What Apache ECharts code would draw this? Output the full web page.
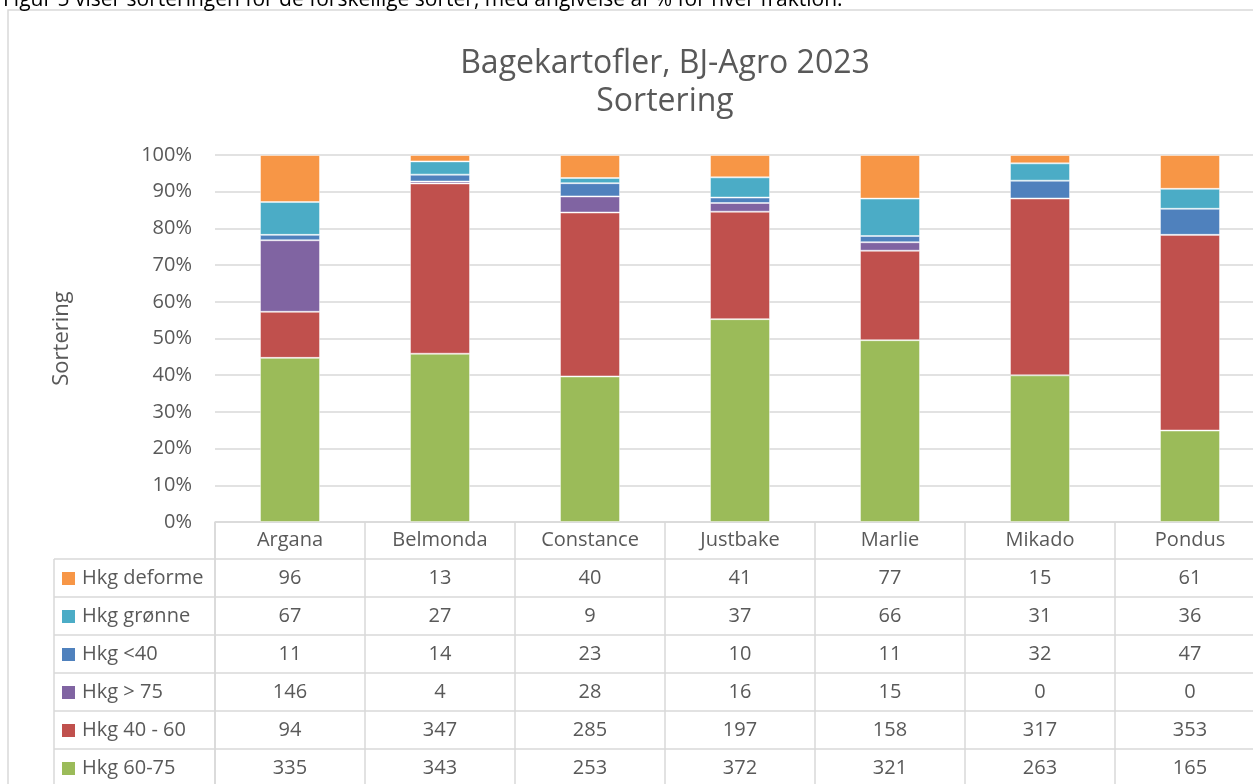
<!DOCTYPE html>
<html>
<head>
<meta charset="utf-8">
<title>Bagekartofler, BJ-Agro 2023</title>
<script src="https://cdn.jsdelivr.net/npm/echarts@6/dist/echarts.min.js"></script>
<style>
    html, body { margin: 0; padding: 0; background: #fff; }
    #main { width: 1253px; height: 784px; }
</style>
</head>
<body>
<div id="main"></div>
<script>
    // sorter (kategorier)
    const sorter = ['Argana', 'Belmonda', 'Constance', 'Justbake', 'Marlie', 'Mikado', 'Pondus'];
    // hkg pr. fraktion
    const hkgDeforme = [96, 13, 40, 41, 77, 15, 61];
    const hkgGronne = [67, 27, 9, 37, 66, 31, 36];
    const hkgUnder40 = [11, 14, 23, 10, 11, 32, 47];
    const hkgOver75 = [146, 4, 28, 16, 15, 0, 0];
    const hkg40til60 = [94, 347, 285, 197, 158, 317, 353];
    const hkg60til75 = [335, 343, 253, 372, 321, 263, 165];
    const yTicks = [0, 10, 20, 30, 40, 50, 60, 70, 80, 90, 100];

    // tabellens rækkefølge (top -> bund)
    const rows = [
        { name: 'Hkg deforme', data: hkgDeforme, color: '#F79646' },
        { name: 'Hkg grønne', data: hkgGronne, color: '#4BACC6' },
        { name: 'Hkg <40', data: hkgUnder40, color: '#4F81BD' },
        { name: 'Hkg > 75', data: hkgOver75, color: '#8064A2' },
        { name: 'Hkg 40 - 60', data: hkg40til60, color: '#C0504D' },
        { name: 'Hkg 60-75', data: hkg60til75, color: '#9BBB59' }
    ];

    const totals = sorter.map((s, i) => rows.reduce((a, r) => a + r.data[i], 0));

    const textColor = '#595959';
    const lineColor = '#d9d9d9';
    const font = '"Open Sans", "DejaVu Sans", sans-serif';
    const fs = 20;

    let myChart = echarts.init(document.getElementById('main'));

    // stablet 100% - nederste fraktion først
    let series = rows.slice().reverse().map(r => ({
        name: r.name,
        type: 'bar',
        stack: 'total',
        barWidth: 60,
        itemStyle: { color: r.color, borderColor: 'rgba(255,255,255,0.45)', borderWidth: 1 },
        data: r.data.map((v, i) => v / totals[i] * 100)
    }));

    let option = {
        animation: false,
        backgroundColor: '#fff',
        textStyle: { fontFamily: font },
        title: {
            text: 'Bagekartofler, BJ-Agro 2023\nSortering',
            left: 660,
            top: 40,
            textAlign: 'center',
            textStyle: { fontSize: 32, fontWeight: 'normal', color: textColor, lineHeight: 38, fontFamily: font }
        },
        grid: { left: 215, top: 155, width: 1050, bottom: 262, outerBoundsMode: 'none', containLabel: false },
        xAxis: {
            type: 'category',
            data: sorter,
            axisLine: { lineStyle: { color: lineColor, width: 1.5 } },
            axisTick: { show: true, length: 270, lineStyle: { color: lineColor, width: 1.5 } },
            axisLabel: { color: textColor, fontSize: fs, margin: 8, fontFamily: font }
        },
        yAxis: {
            type: 'value',
            min: 0,
            max: 100,
            interval: 10,
            name: 'Sortering',
            nameLocation: 'middle',
            nameGap: 142,
            nameTextStyle: { color: textColor, fontSize: 22, fontFamily: font },
            axisLine: { show: false },
            axisTick: { show: false },
            axisLabel: { color: textColor, fontSize: fs, margin: 23, fontFamily: font, formatter: v => yTicks.includes(v) ? v + '%' : '' },
            splitLine: { lineStyle: { color: lineColor, width: 1.5 } }
        },
        series: series
    };
    myChart.setOption(option);

    // tabel under diagrammet
    let g = [];
    // ramme
    g.push({ type: 'rect', shape: { x: 8, y: 10, width: 1400, height: 900 }, style: { fill: null, stroke: lineColor, lineWidth: 1.5 }, silent: true });
    // tekst over rammen (delvis skåret af)
    g.push({ type: 'text', x: 3, y: 11, style: { text: 'Figur 5 viser sorteringen for de forskellige sorter, med angivelse af % for hver fraktion.', fill: '#000', font: '21px ' + font, verticalAlign: 'bottom', textVerticalAlign: 'bottom' } });

    const tableTop = 559, rowH = 38, legLeft = 54, right = 1265;
    g.push({ type: 'line', shape: { x1: legLeft, y1: tableTop, x2: legLeft, y2: 800 }, style: { stroke: lineColor, lineWidth: 1.5 } });
    g.push({ type: 'line', shape: { x1: 215, y1: tableTop - 37, x2: 215, y2: 800 }, style: { stroke: lineColor, lineWidth: 1.5 } });
    rows.forEach((r, k) => {
        let y0 = tableTop + k * rowH;
        g.push({ type: 'line', shape: { x1: legLeft, y1: y0, x2: right, y2: y0 }, style: { stroke: lineColor, lineWidth: 1.5 } });
        g.push({ type: 'rect', shape: { x: 62, y: y0 + 13, width: 13, height: 13 }, style: { fill: r.color } });
        g.push({ type: 'text', x: 82, y: y0 + 19, style: { text: r.name, fill: textColor, font: fs + 'px ' + font, verticalAlign: 'middle', textVerticalAlign: 'middle' } });
        r.data.forEach((v, i) => {
            let cx = myChart.convertToPixel({ xAxisIndex: 0 }, i);
            g.push({ type: 'text', x: cx, y: y0 + 19, style: { text: String(v), fill: textColor, font: fs + 'px ' + font, align: 'center', textAlign: 'center', verticalAlign: 'middle', textVerticalAlign: 'middle' } });
        });
    });
    myChart.setOption({ graphic: g });
</script>
</body>
</html>
